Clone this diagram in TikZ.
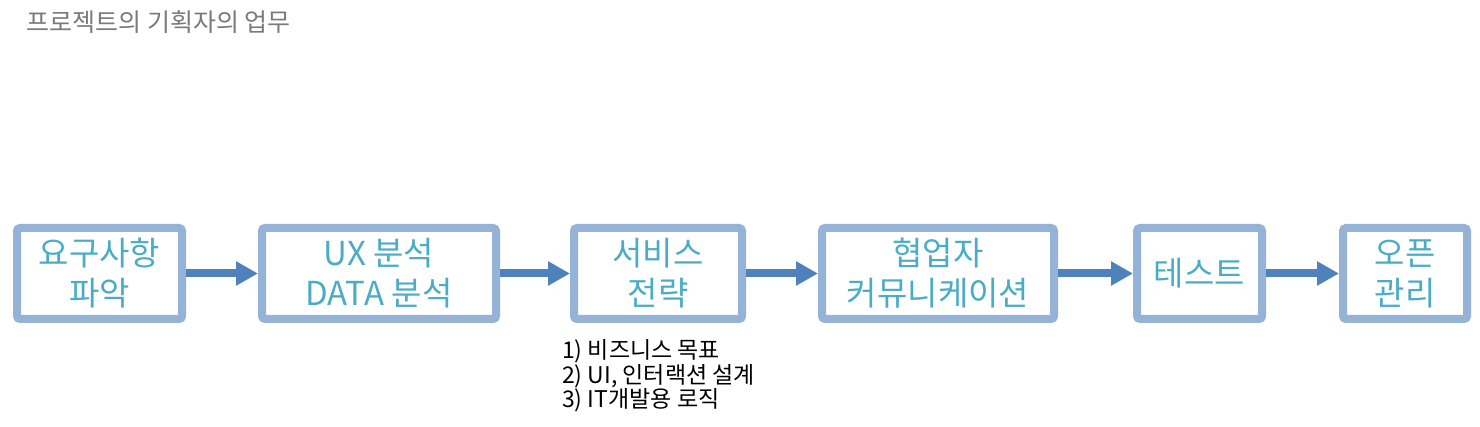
\documentclass[tikz,border=0pt]{standalone}
\usepackage{fontspec}
\setmainfont{Noto Sans CJK KR}
\usetikzlibrary{arrows.meta}
\definecolor{boxline}{HTML}{95B3D7}
\definecolor{flowblue}{HTML}{4F81BD}
\definecolor{labteal}{HTML}{4BACC6}
\tikzset{
	stage/.style={draw=boxline, line width=8pt, rounded corners=3pt, fill=white,
		minimum height=91pt, inner sep=0pt, align=center, text=labteal,
		font=\fontsize{33}{40}\selectfont},
	flow/.style={flowblue, line width=8pt,
		-{Triangle[width=23pt, length=22pt]}}
}
\begin{document}
\begin{tikzpicture}[x=1pt, y=-1pt]
		\useasboundingbox[fill=white] (0, 0) rectangle (1480, 427);
		\node[anchor=west, text=black!52, font=\fontsize{25}{28}\selectfont] (title) at (23, 22) {프로젝트의 기획자의 업무};
		\node[stage, minimum width=165pt] (req) at (99.5, 273.5) {요구사항\\파악};
		\node[stage, minimum width=234pt] (ux) at (379, 273.5) {UX 분석\\DATA 분석};
		\node[stage, minimum width=168pt] (svc) at (658, 273.5) {서비스\\전략};
		\node[stage, minimum width=232pt] (coop) at (938, 273.5) {협업자\\커뮤니케이션};
		\node[stage, minimum width=125pt] (test) at (1199.5, 273.5) {테스트};
		\node[stage, minimum width=124pt] (open) at (1405, 273.5) {오픈\\관리};
		\draw[flow] (req) -- (ux);
		\draw[flow] (ux) -- (svc);
		\draw[flow] (svc) -- (coop);
		\draw[flow] (coop) -- (test);
		\draw[flow] (test) -- (open);
		\node[anchor=west, align=left, inner sep=0pt, font=\fontsize{23}{24.5}\selectfont] (goals) at (562, 376)
			{1) 비즈니스 목표\\2) UI, 인터랙션 설계\\3) IT개발용 로직};
	\end{tikzpicture}
\end{document}
